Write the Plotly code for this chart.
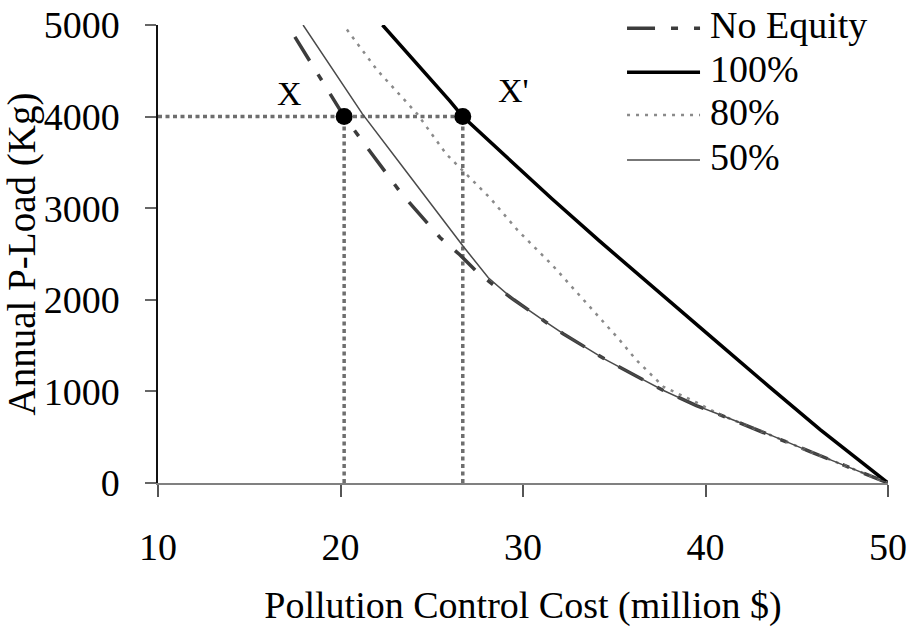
import plotly.graph_objects as go

# Annual P-load (kg) against pollution control cost (million $) for each equity level
no_equity_cost = [17.5, 20.2, 23.3, 25.45, 26.55, 27.5, 28.2, 29.5, 31.3, 32.2, 34.5, 35.5,
                  36.6, 37.7, 38.6, 39.5, 40.8, 43.0, 45.7, 50.0]
no_equity_load = [4870, 4000, 3170, 2680, 2490, 2300, 2190, 2000, 1750, 1630, 1350, 1240,
                  1125, 1010, 925, 845, 745, 570, 345, 0]

equity_100_cost = [22.3, 24.2, 26.0, 26.7, 28.7, 31.6, 34.2, 36.4, 38.6, 40.8, 43.5, 46.3, 50.0]
equity_100_load = [5000, 4580, 4170, 4000, 3630, 3100, 2640, 2260, 1880, 1510, 1050, 580, 0]

equity_80_cost = [20.35, 22.0, 24.2, 25.8, 28.2, 29.7, 31.6, 33.3, 35.3, 36.2, 37.7, 39.5,
                  40.8, 43.0, 45.7, 50.0]
equity_80_load = [4950, 4510, 4030, 3590, 3110, 2760, 2380, 2000, 1560, 1345, 1050, 880,
                  745, 570, 345, 0]

equity_50_cost = [17.95, 21.2, 23.3, 26.7, 28.1, 29.5, 31.3, 32.2, 34.5, 35.5, 36.6, 37.7,
                  38.6, 39.5, 40.8, 43.0, 45.7, 50.0]
equity_50_load = [5000, 4030, 3480, 2590, 2240, 2000, 1750, 1630, 1350, 1240, 1125, 1010,
                  925, 845, 745, 570, 345, 0]

# Marked points X and X' at the target load
point_labels = ["X", "X'"]
point_cost = [20.2, 26.7]
target_load = 4000

x_ticks = [10, 20, 30, 40, 50]
y_ticks = [0, 1000, 2000, 3000, 4000, 5000]

FONT = "Liberation Serif"
GUIDE = dict(color="#6e6e6e", width=3.5, dash="4px,3.5px")

series = [
    ("No Equity", no_equity_cost, no_equity_load,
     dict(color="#3c3c3c", width=3.5, dash="28px,16px,7px,16px")),
    ("100%", equity_100_cost, equity_100_load, dict(color="#000000", width=3.5)),
    ("80%", equity_80_cost, equity_80_load, dict(color="#8a8a8a", width=2.5, dash="3px,6px")),
    ("50%", equity_50_cost, equity_50_load, dict(color="#4a4a4a", width=1.5)),
]

fig = go.Figure()

# dotted guides: horizontal at the target load, verticals down to the cost axis
fig.add_trace(go.Scatter(x=[x_ticks[0], point_cost[1]], y=[target_load, target_load],
                         mode="lines", line=GUIDE, hoverinfo="skip"))
for c in point_cost:
    fig.add_trace(go.Scatter(x=[c, c], y=[0, target_load], mode="lines",
                             line=GUIDE, hoverinfo="skip"))

for name, xs, ys, line in series:
    fig.add_trace(go.Scatter(x=xs, y=ys, mode="lines", name=name, line=line))

fig.add_trace(go.Scatter(x=point_cost, y=[target_load] * len(point_cost), mode="markers",
                         marker=dict(color="black", size=17), hoverinfo="skip"))

# X / X' labels
label_offsets = [(-3.0, 250), (2.8, 290)]
for lab, c, (dx, dy) in zip(point_labels, point_cost, label_offsets):
    fig.add_annotation(x=c + dx, y=target_load + dy, text=lab, showarrow=False,
                       font=dict(family=FONT, size=34, color="black"))

# legend: line samples and labels in the upper right corner
legend_rows = [0.993, 0.897, 0.8035, 0.705]
for (name, _, _, line), ry in zip(series, legend_rows):
    fig.add_shape(type="line", xref="paper", yref="paper", x0=0.6425, x1=0.7425, y0=ry, y1=ry,
                  line=line)
    fig.add_annotation(xref="paper", yref="paper", x=0.754, y=ry + 0.006, text=name,
                       showarrow=False, xanchor="left", yanchor="middle",
                       font=dict(family=FONT, size=38, color="black"))

fig.update_layout(
    width=910, height=631,
    margin=dict(l=158, r=22, t=25, b=148),
    paper_bgcolor="white", plot_bgcolor="white",
    showlegend=False,
    font=dict(family=FONT, size=38, color="black"),
    xaxis=dict(
        range=[10, 50], tickvals=x_ticks, ticktext=[str(v) for v in x_ticks],
        ticks="outside", ticklen=12, tickwidth=1.5, tickcolor="#555555",
        showline=True, linecolor="#808080", linewidth=2, automargin=False,
        showgrid=False, zeroline=False, ticklabelstandoff=17,
        title=dict(text="Pollution Control Cost (million $)", standoff=25,
                   font=dict(family=FONT, size=38)),
    ),
    yaxis=dict(
        range=[0, 5000], tickvals=y_ticks, ticktext=[str(v) for v in y_ticks],
        ticks="outside", ticklen=11, tickwidth=1.5, tickcolor="#666666",
        showline=True, linecolor="#111111", linewidth=1.5, automargin=False,
        showgrid=False, zeroline=False, ticklabelstandoff=18,
        title=dict(text="Annual P-Load (Kg)", standoff=6, font=dict(family=FONT, size=39)),
    ),
)

fig.write_html("out.html")
